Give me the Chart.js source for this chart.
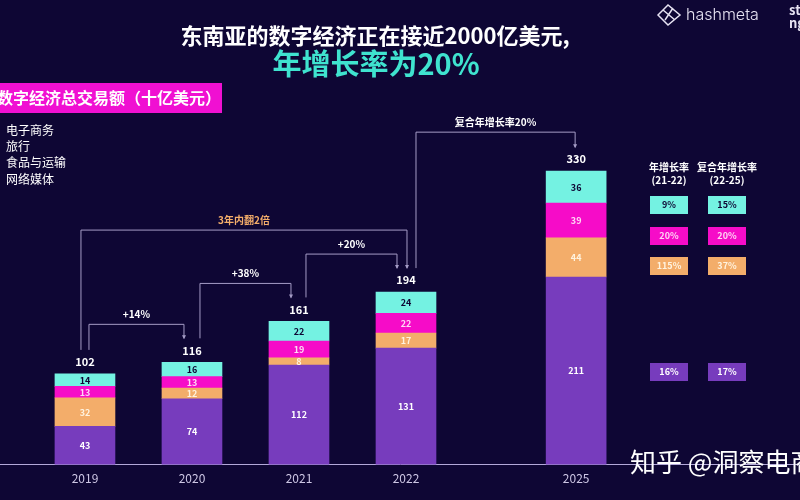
<!DOCTYPE html>
<html>
<head>
<meta charset="utf-8">
<script src="https://cdn.jsdelivr.net/npm/chart.js@4"></script>
<style>
  html, body { margin: 0; padding: 0; background: #0e0634; }
</style>
</head>
<body>
<canvas id="myChart" width="800" height="500"></canvas>
<script>
// values (十亿美元)
const years = ['2019', '2020', '2021', '2022', '2025'];
const ecommerce = [43, 74, 112, 131, 211];
const travel = [32, 12, 8, 17, 44];
const foodTransport = [13, 13, 19, 22, 39];
const onlineMedia = [14, 16, 22, 24, 36];
const totals = [102, 116, 161, 194, 330];

const seriesNames = ['电子商务', '旅行', '食品与运输', '网络媒体'];
const growth2122 = ['16%', '115%', '20%', '9%'];
const cagr2225 = ['17%', '37%', '20%', '15%'];

const jumpFrom = [0, 1, 2, 0, 3];
const jumpTo = [1, 2, 3, 3, 4];
const jumpLabels = ['+14%', '+38%', '+20%', '3年内翻2倍', '复合年增长率20%'];

const FONT = '"Noto Sans CJK SC", "Noto Sans", sans-serif';
const BG = '#0e0634';
const colors = ['#773cbd', '#f3ad6a', '#f60cc8', '#74f2e2'];
const segText = ['#ffffff', '#fff3df', '#ffd6f5', '#0e0634'];

// 2025 sits a bit further right than the yearly steps
const GAP = 0.59;
let slot = i => i + (i === years.length - 1 ? GAP : 0);
let pts = arr => arr.map((v, i) => ({x: slot(i), y: v}));

// bracket styling: x offsets from bar centre, extra lift for the outer one
const jumpStyle = [
    {dx1: 4, dx2: -8, lift: 14, color: '#ffffff'},
    {dx1: 8, dx2: -8, lift: 14, color: '#ffffff'},
    {dx1: 7, dx2: -9, lift: 14, color: '#ffffff'},
    {dx1: -4, dx2: 1, lift: 38, color: '#f3ad6a'},
    {dx1: 10, dx2: -1, lift: 15, color: '#ffffff'}
];

function txt(ctx, s, x, y, font, color, align) {
    ctx.font = font;
    ctx.fillStyle = color;
    ctx.textAlign = align || 'center';
    ctx.textBaseline = 'middle';
    ctx.fillText(s, x, y);
}

const decor = {
    id: 'decor',
    beforeDraw(chart) {
        let ctx = chart.ctx;
        ctx.save();
        ctx.fillStyle = BG;
        ctx.fillRect(0, 0, chart.width, chart.height);
        ctx.restore();
    },
    afterDatasetsDraw(chart) {
        let ctx = chart.ctx;
        ctx.save();

        // numbers inside the segments
        chart.data.datasets.forEach((ds, d) => {
            chart.getDatasetMeta(d).data.forEach((bar, i) => {
                let yc = (bar.y + bar.base) / 2;
                txt(ctx, String(ds.data[i].y), bar.x, yc, 'bold 9px ' + FONT, segText[d]);
            });
        });

        // totals on top
        let topMeta = chart.getDatasetMeta(3).data;
        topMeta.forEach((bar, i) => {
            txt(ctx, String(totals[i]), bar.x, bar.y - 12, '600 11px ' + FONT, '#ffffff');
        });

        // growth brackets
        ctx.strokeStyle = '#a59cc6';
        ctx.lineWidth = 1;
        for (let k = 0; k < jumpLabels.length; k++) {
            let st = jumpStyle[k];
            let a = topMeta[jumpFrom[k]], b = topMeta[jumpTo[k]];
            let x1 = a.x + st.dx1, x2 = b.x + st.dx2;
            let y1 = a.y - 24, y2 = b.y - 24;
            let level = y2 - st.lift;
            ctx.beginPath();
            ctx.moveTo(x1, y1);
            ctx.lineTo(x1, level);
            ctx.lineTo(x2, level);
            ctx.lineTo(x2, y2);
            ctx.stroke();
            ctx.fillStyle = '#a59cc6';
            ctx.beginPath();
            ctx.moveTo(x2 - 2, y2 - 3);
            ctx.lineTo(x2 + 2, y2 - 3);
            ctx.lineTo(x2, y2 + 1);
            ctx.fill();
            txt(ctx, jumpLabels[k], (x1 + x2) / 2, level - 10, 'bold 10px ' + FONT, st.color);
        }
        ctx.restore();
    },
    afterDraw(chart) {
        let ctx = chart.ctx;
        ctx.save();

        // title
        txt(ctx, '东南亚的数字经济正在接近2000亿美元,', 375, 36, 'bold 22px ' + FONT, '#ffffff');
        txt(ctx, '年增长率为20%', 376, 64, 'bold 29px ' + FONT, '#3fe3cf');

        // pink banner
        ctx.fillStyle = '#f010d2';
        ctx.fillRect(0, 83, 222, 30);
        txt(ctx, '数字经济总交易额（十亿美元）', -3, 98, 'bold 16px ' + FONT, '#ffffff', 'left');

        // legend (text only)
        seriesNames.forEach((n, i) => {
            txt(ctx, n, 6, 130 + i * 16.4, '12px ' + FONT, '#ffffff', 'left');
        });

        // growth table on the right
        txt(ctx, '年增长率', 669, 167, 'bold 10px ' + FONT, '#ffffff');
        txt(ctx, '(21-22)', 669, 180, 'bold 10px ' + FONT, '#ffffff');
        txt(ctx, '复合年增长率', 727, 167, 'bold 10px ' + FONT, '#ffffff');
        txt(ctx, '(22-25)', 727, 180, 'bold 10px ' + FONT, '#ffffff');
        let rowY = [372, 266, 236, 205];
        for (let s = 0; s < 4; s++) {
            [[669, growth2122[s]], [727, cagr2225[s]]].forEach(([cx, label]) => {
                ctx.fillStyle = colors[s];
                ctx.fillRect(cx - 19, rowY[s] - 9, 38, 18);
                txt(ctx, label, cx, rowY[s], 'bold 9px ' + FONT, segText[s]);
            });
        }

        // logo
        ctx.strokeStyle = '#e6e2f2';
        ctx.lineWidth = 1.5;
        ctx.beginPath();
        ctx.moveTo(658, 15); ctx.lineTo(668, 5); ctx.lineTo(680, 15); ctx.lineTo(668, 25); ctx.closePath();
        ctx.moveTo(663, 10); ctx.lineTo(675, 20);
        ctx.moveTo(665, 20); ctx.lineTo(673, 8);
        ctx.stroke();
        txt(ctx, 'hashmeta', 686, 15, '300 16px Inter, ' + FONT, '#e6e2f2', 'left');
        txt(ctx, 'st', 789, 10, 'bold 13px ' + FONT, '#e6e2f2', 'left');
        txt(ctx, 'ng', 789, 23, 'bold 13px ' + FONT, '#e6e2f2', 'left');

        // watermark
        txt(ctx, '知乎 @洞察电商', 630, 462, '26px ' + FONT, '#ffffff', 'left');
        ctx.restore();
    }
};

let config = {
    type: 'bar',
    data: {
        datasets: [
            {label: seriesNames[0], data: pts(ecommerce), backgroundColor: colors[0]},
            {label: seriesNames[1], data: pts(travel), backgroundColor: colors[1]},
            {label: seriesNames[2], data: pts(foodTransport), backgroundColor: colors[2]},
            {label: seriesNames[3], data: pts(onlineMedia), backgroundColor: colors[3]}
        ]
    },
    options: {
        responsive: false,
        animation: false,
        barThickness: 60,
        borderWidth: 0,
        layout: {padding: {top: 100, left: 0, right: 0, bottom: 7}},
        plugins: {legend: {display: false}, tooltip: {enabled: false}},
        scales: {
            x: {
                type: 'linear',
                stacked: true,
                offset: false,
                min: -0.794,
                max: 6.682,
                grid: {display: false, drawTicks: false, tickLength: 0},
                border: {display: true, color: '#b3a8d9', width: 1},
                afterBuildTicks: scale => {
                    scale.ticks = years.map((y, i) => ({value: slot(i)}));
                },
                ticks: {
                    autoSkip: false,
                    maxRotation: 0,
                    padding: 7,
                    color: '#cfc8e6',
                    font: {size: 12, family: FONT},
                    callback: (v, idx) => years[idx]
                }
            },
            y: {stacked: true, min: 0, max: 410, display: false}
        }
    },
    plugins: [decor]
};

let myChart = new Chart(document.getElementById('myChart'), config);
</script>
</body>
</html>
